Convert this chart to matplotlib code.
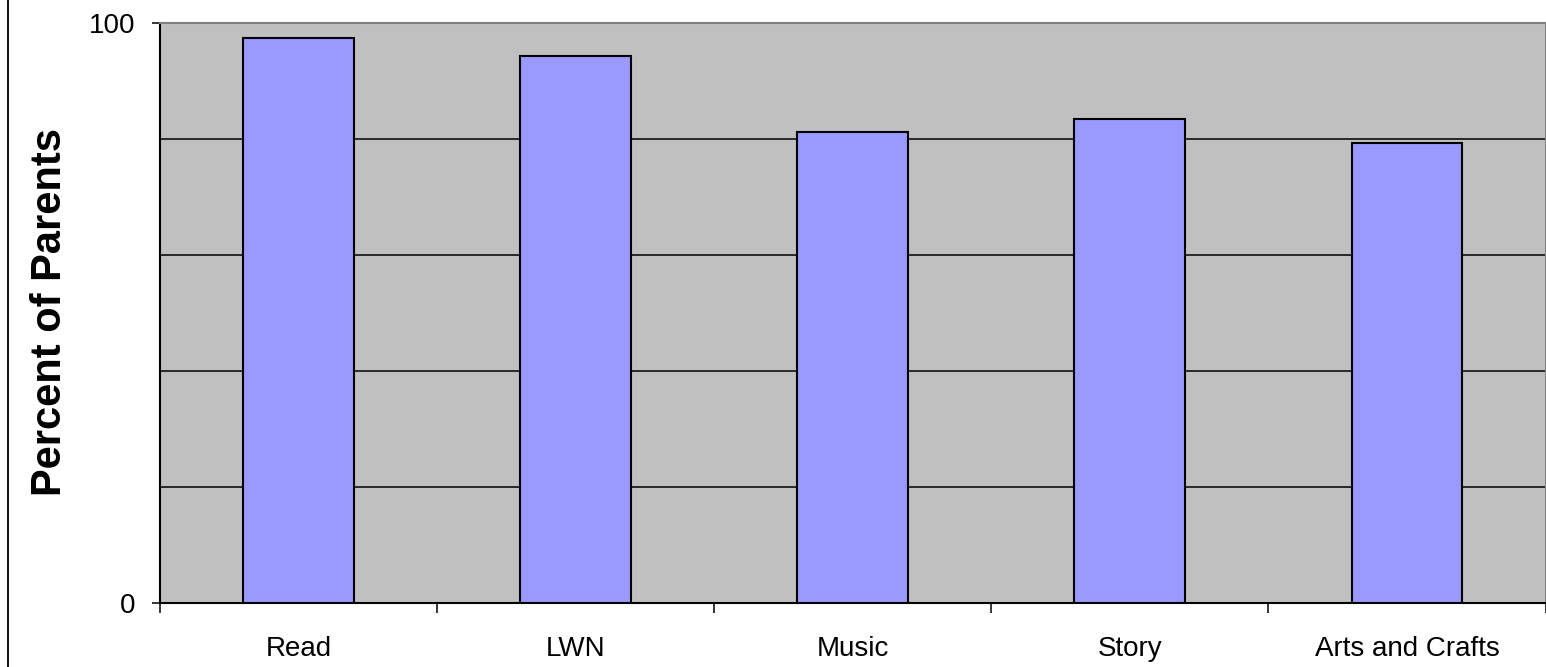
import matplotlib
matplotlib.use("Agg")
import matplotlib.pyplot as plt
from matplotlib.lines import Line2D
import numpy as np

categories = ["Read", "LWN", "Music", "Story", "Arts and Crafts"]
values = [97.5, 94.3, 81.2, 83.5, 79.4]
y_label = "Percent of Parents"
y_ticks = [0, 100]
grid_levels = [20, 40, 60, 80]

plt.rcParams["font.family"] = ["Liberation Sans", "DejaVu Sans"]

W, H, DPI = 1546, 667, 100
fig = plt.figure(figsize=(W / DPI, H / DPI), dpi=DPI)
fig.patch.set_facecolor("white")

left, right = 160 / W, 1545.5 / W
top, bottom = 1 - 23 / H, 1 - 603.3 / H
ax = fig.add_axes([left, bottom, right - left, top - bottom])
ax.set_facecolor("#C0C0C0")

x = np.arange(len(categories))
ax.bar(x, values, width=0.4, color="#9999FF", edgecolor="black",
       linewidth=1.5, zorder=3)

ax.set_xlim(-0.5, len(categories) - 0.5)
ax.set_ylim(0, 100)

# horizontal gridlines at the intermediate levels
for g in grid_levels:
    ax.axhline(g, color="black", linewidth=1.1, zorder=1)

# y axis: only the end values are labelled
ax.set_yticks(y_ticks)
ax.set_yticklabels([str(v) for v in y_ticks])
ax.tick_params(axis="y", which="major", direction="out", length=6,
               width=1.1, pad=11.5, labelsize=20, color="black")

# x axis: tick marks between categories, labels centred under bars
ax.set_xticks(np.arange(len(categories) + 1) - 0.5)
ax.set_xticklabels([])
ax.tick_params(axis="x", which="major", direction="out", length=7,
               width=1.1, color="black")
ax.set_xticks(x, minor=True)
ax.set_xticklabels(categories, minor=True)
ax.tick_params(axis="x", which="minor", length=0, pad=23.5, labelsize=20)

for side in ("left", "bottom"):
    ax.spines[side].set_color("black")
    ax.spines[side].set_linewidth(1.5)
for side in ("top", "right"):
    ax.spines[side].set_color("#808080")
    ax.spines[side].set_linewidth(1.5)

fig.text(61 / W, 1 - 312 / H, y_label, rotation=90, rotation_mode="anchor",
         ha="center", va="baseline", fontsize=30, fontweight="bold")

# outer frame line on the left edge of the figure
fig.add_artist(Line2D([7.8 / W, 7.8 / W], [0, 1], transform=fig.transFigure,
                      color="black", linewidth=1.3))

fig.savefig("out.png", dpi=DPI)
